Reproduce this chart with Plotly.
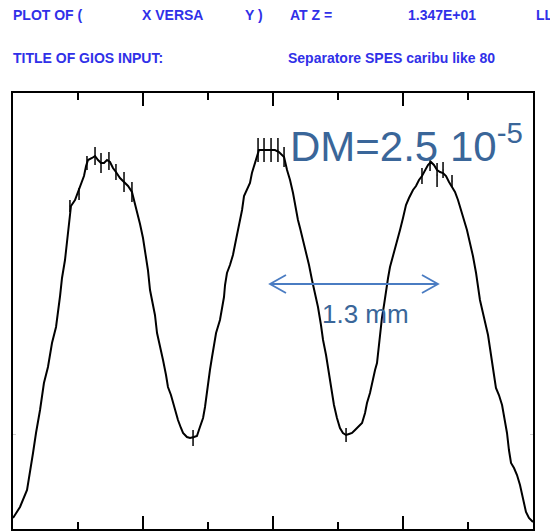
import plotly.graph_objects as go

# Beam profile (X versa Y) at Z = 1.347E+01 — position in mm, counts (arbitrary)
x_mm = [
    0.000, 0.054, 0.108, 0.131, 0.154, 0.177, 0.208, 0.238, 0.269, 0.300,
    0.331, 0.362, 0.377, 0.400, 0.415, 0.431, 0.446, 0.477, 0.500, 0.523,
    0.546, 0.562, 0.577, 0.608, 0.631, 0.654, 0.677, 0.700, 0.723, 0.746,
    0.769, 0.792, 0.823, 0.854, 0.885, 0.915, 0.931, 0.954, 0.977, 1.000,
    1.023, 1.038, 1.054,
    1.069, 1.092, 1.108, 1.131, 1.154, 1.177, 1.192, 1.215, 1.231, 1.254,
    1.269, 1.292, 1.308, 1.338, 1.362, 1.392, 1.415, 1.438, 1.462, 1.477,
    1.500, 1.515, 1.531, 1.546, 1.562, 1.592, 1.608, 1.623,
    1.631, 1.646, 1.669, 1.692, 1.715, 1.731, 1.746, 1.762, 1.777, 1.800,
    1.823, 1.838, 1.862, 1.877, 1.892, 1.923, 1.954, 1.985, 2.015, 2.046,
    2.085, 2.108, 2.131, 2.154, 2.169, 2.192, 2.208, 2.231, 2.254, 2.277,
    2.300, 2.323, 2.346, 2.369, 2.385, 2.408, 2.423, 2.438, 2.454, 2.469,
    2.492, 2.515, 2.538, 2.562, 2.585, 2.608, 2.631, 2.654, 2.685, 2.708,
    2.723, 2.746, 2.762, 2.785, 2.800, 2.815, 2.823, 2.838, 2.854, 2.869,
    2.885, 2.900, 2.923, 2.954, 2.977, 3.000, 3.023, 3.046, 3.077, 3.100,
    3.123, 3.146, 3.169, 3.192, 3.215, 3.238, 3.262, 3.285, 3.308, 3.331,
    3.354, 3.377, 3.400, 3.423, 3.446, 3.469, 3.492, 3.515, 3.538, 3.562,
    3.577, 3.592, 3.615, 3.638, 3.654, 3.669, 3.685, 3.700, 3.715, 3.738,
    3.762, 3.785, 3.800, 3.815, 3.831, 3.854, 3.877, 3.900, 3.915, 3.931,
    3.946, 3.969, 4.000,
]
counts = [
    11, 22, 39, 56, 76, 96, 119, 146, 162, 186,
    202, 233, 251, 269, 289, 309, 323, 329, 337, 343,
    353, 363, 369, 371, 373, 369, 366, 366, 369, 367,
    361, 357, 351, 347, 343, 337, 329, 319, 305, 291,
    273, 259, 239,
    229, 214, 196, 184, 169, 154, 142, 134, 126, 117,
    109, 101, 96, 92, 91, 92, 93, 102, 111, 122,
    146, 159, 172, 184, 196, 209, 219, 232,
    244, 256, 264, 274, 289, 299, 307, 319, 333, 339,
    346, 356, 366, 374, 379, 379, 379, 379, 379, 377,
    372, 359, 349, 336, 324, 309, 301, 289, 277, 264,
    249, 237, 222, 204, 189, 174, 161, 149, 134, 124,
    111, 101, 96, 94, 95, 96, 99, 102, 106, 116,
    126, 136, 146, 159, 166, 184, 194, 211, 224, 239,
    251, 262, 273, 286, 299, 311, 324, 331, 339, 343,
    349, 353, 359, 364, 367, 364, 359, 357, 356, 353,
    347, 342, 337, 329, 319, 309, 299, 286, 273, 256,
    242, 229, 216, 204, 194, 181, 169, 154, 141, 134,
    124, 109, 96, 79, 66, 61, 54, 44, 34, 24,
    17, 11, 7,
]

# statistical error bars visible on the profile
err_x = [0.438, 0.508, 0.569, 0.631, 0.677, 0.738, 0.792, 0.854, 0.915,
         1.385, 1.885, 1.931, 1.985, 2.038, 2.085, 2.562,
         3.146, 3.208, 3.262, 3.308, 3.377]
err_y = [323, 335, 366, 373, 366, 368, 357, 347, 337,
         91, 379, 379, 379, 379, 372, 94,
         353, 364, 354, 359, 348]
err_half = [6, 6, 7, 9, 10, 9, 8, 10, 10,
            8, 12, 12, 12, 12, 10, 7,
            8, 6, 12, 8, 6]

# separation marker (1.3 mm between peaks)
sep_x0, sep_x1, sep_y = 1.977, 3.269, 245
head_dx, head_dy = 0.123, 9

fig = go.Figure()
fig.add_trace(go.Scatter(x=x_mm, y=counts, mode="lines",
                         line=dict(color="black", width=2),
                         hoverinfo="skip", showlegend=False))
fig.add_trace(go.Scatter(x=err_x, y=err_y, mode="markers",
                         marker=dict(size=1, color="black"),
                         error_y=dict(type="data", array=err_half, visible=True,
                                      color="black", thickness=1.5, width=0),
                         hoverinfo="skip", showlegend=False))

arrow_color = "#4A7CC2"
fig.add_shape(type="line", x0=sep_x0, x1=sep_x1, y0=sep_y, y1=sep_y,
              line=dict(color=arrow_color, width=1.8))
fig.add_shape(type="path",
              path=f"M {sep_x0 + head_dx} {sep_y + head_dy} L {sep_x0} {sep_y} L {sep_x0 + head_dx} {sep_y - head_dy}",
              line=dict(color=arrow_color, width=1.8))
fig.add_shape(type="path",
              path=f"M {sep_x1 - head_dx} {sep_y + head_dy} L {sep_x1} {sep_y} L {sep_x1 - head_dx} {sep_y - head_dy}",
              line=dict(color=arrow_color, width=1.8))

text_blue = "#3A6699"
fig.add_annotation(x=2.115, y=386, xref="x", yref="y", xanchor="left", yanchor="middle",
                   text="DM=2.5 10<sup>-5</sup>", showarrow=False,
                   font=dict(family="Liberation Sans", size=42, color=text_blue))
fig.add_annotation(x=2.36, y=215, xref="x", yref="y", xanchor="left", yanchor="middle",
                   text="1.3 mm", showarrow=False,
                   font=dict(family="Liberation Sans", size=26, color=text_blue))

hdr_font = dict(family="Liberation Sans", size=14, color="#3030E8", weight="bold")
header = [
    ("PLOT OF (", -0.004, 1.1789),
    ("X VERSA", 0.2441, 1.1789),
    ("Y )", 0.4422, 1.1789),
    ("AT Z =", 0.5287, 1.1789),
    ("1.347E+01", 0.7556, 1.1789),
    ("LLU", 1.0018, 1.1789),
    ("TITLE OF GIOS INPUT:", -0.004, 1.0803),
    ("Separatore SPES caribu like 80", 0.5248, 1.0803),
]
for txt, xp, yp in header:
    fig.add_annotation(x=xp, y=yp, xref="paper", yref="paper", xanchor="left",
                       yanchor="middle", text=txt, showarrow=False, font=hdr_font)

fig.update_xaxes(range=[0, 4], showgrid=False, zeroline=False, showticklabels=False,
                 showline=True, linecolor="black", linewidth=2, mirror="ticks",
                 ticks="inside", tickvals=[1, 2, 3], ticklen=13, tickwidth=2,
                 tickcolor="black",
                 minor=dict(ticks="inside", tickvals=[0.5, 1.5, 2.5, 3.5], ticklen=7,
                            tickwidth=2, tickcolor="black"))
fig.update_yaxes(range=[0, 436], showgrid=False, zeroline=False, showticklabels=False,
                 showline=True, linecolor="black", linewidth=2, mirror="ticks",
                 ticks="inside", tickvals=[95], ticklen=3, tickwidth=1,
                 tickcolor="#d0d0d0")

# page body has an 8px default margin, so the figure is sized to fit the window
fig.update_layout(width=550, height=523, margin=dict(l=5, r=25, t=85, b=2),
                  plot_bgcolor="white", paper_bgcolor="white")

fig.write_html("out.html")
